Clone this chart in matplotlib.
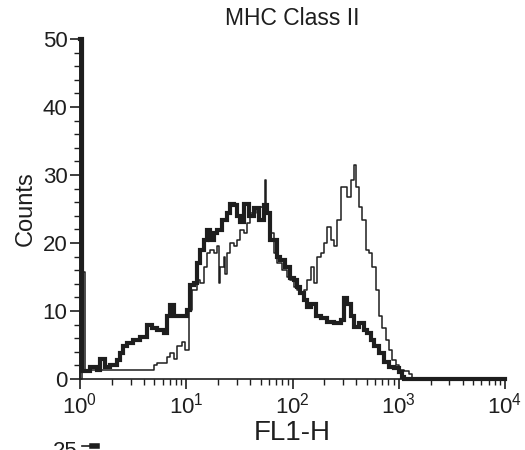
import matplotlib
matplotlib.use("Agg")
import matplotlib.pyplot as plt
import numpy as np
from matplotlib.ticker import LogLocator, LogFormatterSciNotation, MultipleLocator

plt.rcParams['font.family'] = ['Liberation Sans', 'DejaVu Sans']
plt.rcParams['mathtext.fontset'] = 'custom'
plt.rcParams['mathtext.rm'] = 'Liberation Sans'
plt.rcParams['mathtext.it'] = 'Liberation Sans:italic'
plt.rcParams['mathtext.bf'] = 'Liberation Sans:bold'

title = "MHC Class II"
x_label = "FL1-H"
y_label = "Counts"
y_ticks = [0, 10, 20, 30, 40, 50]

# channel left edges in decades (log10 FL1-H) and counts per channel
thick_log = [0.000, 0.022, 0.050, 0.094, 0.157, 0.189, 0.236, 0.283, 0.346, 0.377,
             0.409, 0.440, 0.503, 0.566, 0.629, 0.676, 0.723, 0.786, 0.818, 0.849,
             0.881, 0.912, 1.006, 1.038, 1.069, 1.101, 1.132, 1.164, 1.195, 1.226,
             1.258, 1.289, 1.336, 1.384, 1.415, 1.447, 1.478, 1.509, 1.541, 1.588,
             1.635, 1.682, 1.730, 1.761, 1.792, 1.824, 1.855, 1.887, 1.934, 1.981,
             2.013, 2.044, 2.075, 2.107, 2.138, 2.170, 2.217, 2.264, 2.327, 2.390,
             2.453, 2.484, 2.516, 2.547, 2.579, 2.626, 2.673, 2.704, 2.736, 2.767,
             2.814, 2.862, 2.909, 2.956, 3.003, 3.035, 3.050]
thick_counts = [50.0, 1.2, 1.2, 1.8, 1.3, 2.9, 1.8, 2.0, 2.8, 3.8,
                4.8, 5.3, 5.7, 6.2, 7.9, 7.5, 7.2, 6.7, 9.2, 10.9,
                9.2, 9.2, 10.1, 13.8, 14.1, 17.0, 19.0, 20.4, 21.9, 20.4,
                21.4, 21.9, 23.4, 24.4, 25.8, 25.6, 23.9, 23.1, 25.8, 23.9,
                25.1, 23.4, 25.6, 24.4, 20.4, 20.4, 18.0, 17.5, 16.5, 14.8,
                14.6, 13.6, 12.6, 11.6, 10.6, 11.1, 9.2, 8.9, 8.4, 8.2,
                8.7, 11.9, 11.1, 9.2, 7.7, 8.2, 7.2, 6.7, 5.7, 4.8,
                3.8, 2.5, 1.8, 1.6, 1.1, 0.3, 0.0]

thin_log = [0.000, 0.019, 0.031, 0.050, 0.692, 0.723, 0.818, 0.849, 0.881, 0.912,
            0.959, 0.991, 1.022, 1.053, 1.101, 1.132, 1.164, 1.195, 1.226, 1.258,
            1.289, 1.305, 1.321, 1.352, 1.368, 1.384, 1.415, 1.447, 1.478, 1.509,
            1.541, 1.572, 1.604, 1.635, 1.667, 1.698, 1.737, 1.752, 1.792, 1.824,
            1.855, 1.903, 1.950, 1.981, 2.013, 2.044, 2.075, 2.107, 2.138, 2.170,
            2.201, 2.233, 2.264, 2.296, 2.327, 2.358, 2.390, 2.421, 2.453, 2.516,
            2.547, 2.579, 2.594, 2.626, 2.657, 2.689, 2.720, 2.752, 2.783, 2.814,
            2.846, 2.877, 2.909, 2.940, 2.972, 3.003, 3.050, 3.097, 3.129]
thin_counts = [0.0, 30.5, 15.8, 1.3, 2.0, 2.3, 3.3, 3.8, 3.0, 4.8,
               5.5, 4.3, 10.1, 13.1, 14.6, 14.1, 16.5, 18.5, 19.0, 18.5,
               19.5, 14.1, 16.5, 18.0, 15.5, 18.5, 20.0, 19.5, 20.4, 21.9,
               21.4, 22.9, 24.4, 25.3, 24.4, 25.3, 29.3, 24.4, 21.4, 18.5,
               17.0, 16.0, 15.0, 14.6, 13.6, 13.1, 12.6, 13.1, 14.6, 16.5,
               14.1, 18.0, 18.5, 20.0, 22.4, 20.4, 19.5, 23.4, 28.3, 26.8,
               29.3, 31.4, 28.3, 25.3, 23.4, 19.0, 18.5, 16.5, 13.1, 9.2,
               7.5, 5.7, 4.3, 2.8, 2.0, 1.3, 1.2, 0.8, 0.0]

end_log = 4.0

fig = plt.figure(figsize=(5.25, 4.5), dpi=100)
ax = fig.add_axes([80/525, 1 - 379/450, 425/525, 340/450])

def step_xy(logs, counts):
    xs = 10 ** np.append(np.array(logs), end_log)
    ys = np.append(np.array(counts), counts[-1])
    return xs, ys

col = '#1e1e1e'
x2, y2 = step_xy(thin_log, thin_counts)
ax.step(x2, y2, where='post', color=col, lw=1.1, clip_on=False, zorder=3)
x1, y1 = step_xy(thick_log, thick_counts)
ax.step(x1, y1, where='post', color=col, lw=3.0, clip_on=False, zorder=4,
        solid_joinstyle='miter')

ax.set_xscale('log')
ax.set_xlim(1, 1e4)
ax.set_ylim(0, 50)
ax.xaxis.set_major_locator(LogLocator(base=10, numticks=10))
ax.xaxis.set_minor_locator(LogLocator(base=10, subs=np.arange(2, 10), numticks=100))
ax.xaxis.set_major_formatter(LogFormatterSciNotation())
ax.set_yticks(y_ticks)
ax.yaxis.set_minor_locator(MultipleLocator(2))

for s in ['top', 'right']:
    ax.spines[s].set_visible(False)
ax.spines['left'].set_linewidth(1.4)
ax.spines['bottom'].set_linewidth(1.2)
ax.spines['left'].set_color(col)
ax.spines['bottom'].set_color(col)

ax.tick_params(axis='both', which='major', direction='out', length=7, width=1.2,
               labelsize=16, colors=col)
ax.tick_params(axis='both', which='minor', direction='out', length=4, width=1.0, colors=col)
ax.tick_params(axis='x', which='major', pad=3)
ax.tick_params(axis='y', which='major', pad=2)

ax.set_title(title, fontsize=16.5, pad=10, color=col)
ax.set_xlabel(x_label, fontsize=20, labelpad=1, color=col)
ax.set_ylabel(y_label, fontsize=17, labelpad=4, color=col)

# fragment of the next panel, cut off by the figure edge
fig.text(65/525, 1 - 441/450, "25", fontsize=16, ha='center', va='top', color=col)
fig.add_artist(plt.Line2D([82/525, 94/525], [1 - 446/450, 1 - 446/450],
                          transform=fig.transFigure, color=col, lw=1.2))
fig.add_artist(plt.Line2D([92/525, 97/525], [1 - 446/450, 1 - 446/450],
                          transform=fig.transFigure, color=col, lw=4))

fig.savefig('out.png', dpi=100)
